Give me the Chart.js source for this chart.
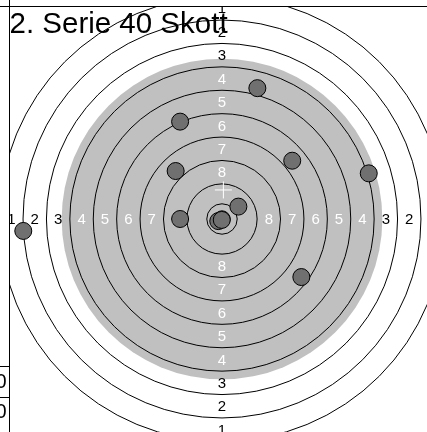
<!DOCTYPE html>
<html>
<head>
<meta charset="utf-8">
<script src="https://cdn.jsdelivr.net/npm/chart.js@4"></script>
<style>
  html, body { margin: 0; padding: 0; background: #fff; overflow: hidden; }
  canvas { display: block; }
</style>
</head>
<body>
<canvas id="target" width="435" height="432"></canvas>
<script>
// Daten: Ringe, Beschriftungen, Schüsse (Einheit = ein Ringabstand)
const titleText = "2. Serie 40 Skott";
const ringRadii = [9.5, 8.5, 7.5, 6.5, 5.5, 4.5, 3.5, 2.5, 1.5, 0.65, 0.35];
const ringLabels = ["1", "2", "3", "4", "5", "6", "7", "8"];
const labelRadii = [9, 8, 7, 6, 5, 4, 3, 2];
const blackRadius = 6.85;
const shotX = [1.51, -1.79, -1.98, 3.0, 6.27, -1.79, 0.7, -0.16, -0.01, 3.39, -8.49];
const shotY = [5.59, 4.16, 2.05, 2.49, 1.95, 0.0, 0.53, -0.09, -0.04, -2.48, -0.51];
const tableValues = ["0", "0"];
const axisMin = -9.1;
const axisMax = 9.1;

const shots = shotX.map((x, i) => ({ x: x, y: shotY[i] }));

// Scheibe: grauer Spiegel, Ringe und Ringzahlen
const targetPlugin = {
	id: "targetFace",
	beforeDatasetsDraw(chart) {
		const { ctx, chartArea, scales } = chart;
		const cx = scales.x.getPixelForValue(0);
		const cy = scales.y.getPixelForValue(0);
		const unit = scales.x.getPixelForValue(1) - cx;

		ctx.save();
		ctx.beginPath();
		ctx.rect(chartArea.left, chartArea.top, chartArea.right - chartArea.left, chartArea.bottom - chartArea.top);
		ctx.clip();

		ctx.fillStyle = "#c0c0c0";
		ctx.beginPath();
		ctx.arc(cx, cy, blackRadius * unit, 0, Math.PI * 2);
		ctx.fill();

		ctx.strokeStyle = "#000";
		ctx.lineWidth = 1;
		ringRadii.forEach((r) => {
			ctx.beginPath();
			ctx.arc(cx, cy, r * unit, 0, Math.PI * 2);
			ctx.stroke();
		});

		ctx.font = '15px "Liberation Sans", Arial, sans-serif';
		ctx.textAlign = "center";
		ctx.textBaseline = "middle";
		ringLabels.forEach((lab, i) => {
			const r = labelRadii[i] * unit;
			ctx.fillStyle = labelRadii[i] < blackRadius ? "#fff" : "#000";
			ctx.fillText(lab, cx - r, cy + 1);
			ctx.fillText(lab, cx + r, cy + 1);
			ctx.fillText(lab, cx, cy - r + 1);
			ctx.fillText(lab, cx, cy + r + 1);
		});

		ctx.fillStyle = "#000";
		ctx.font = '29.5px "Liberation Sans", Arial, sans-serif';
		ctx.textAlign = "left";
		ctx.textBaseline = "alphabetic";
		ctx.fillText(titleText, 9.5, 32.5);
		ctx.restore();
	},
	afterDatasetsDraw(chart) {
		// Trefferlage-Mittelpunkt als weißes Kreuz
		const { ctx, scales } = chart;
		const mx = shotX.reduce((a, b) => a + b, 0) / shotX.length;
		const my = shotY.reduce((a, b) => a + b, 0) / shotY.length;
		const px = scales.x.getPixelForValue(mx);
		const py = scales.y.getPixelForValue(my);
		ctx.save();
		ctx.strokeStyle = "#fff";
		ctx.lineWidth = 1;
		ctx.beginPath();
		ctx.moveTo(px - 8.5, py);
		ctx.lineTo(px + 8.5, py);
		ctx.moveTo(px, py - 8.5);
		ctx.lineTo(px, py + 8.5);
		ctx.stroke();
		ctx.restore();
	},
	afterDraw(chart) {
		// Tabellenlinien links und oben
		const { ctx, width, height } = chart;
		ctx.save();
		ctx.strokeStyle = "#000";
		ctx.lineWidth = 1;
		ctx.beginPath();
		ctx.moveTo(9.5, 0);
		ctx.lineTo(9.5, height);
		ctx.moveTo(0, 6.5);
		ctx.lineTo(width, 6.5);
		ctx.moveTo(0, 366.5);
		ctx.lineTo(9.5, 366.5);
		ctx.moveTo(0, 397.5);
		ctx.lineTo(9.5, 397.5);
		ctx.stroke();
		ctx.fillStyle = "#000";
		ctx.font = '20px "Liberation Sans", Arial, sans-serif';
		ctx.textAlign = "right";
		ctx.textBaseline = "middle";
		ctx.fillText(tableValues[0], 6.5, 382);
		ctx.fillText(tableValues[1], 6.5, 412);
		ctx.restore();
	},
};

new Chart(document.getElementById("target"), {
	type: "scatter",
	data: {
		datasets: [
			{
				data: shots,
				pointRadius: 8.5,
				pointHoverRadius: 8.5,
				backgroundColor: "#707070",
				borderColor: "#000",
				borderWidth: 1,
			},
		],
	},
	options: {
		responsive: false,
		animation: false,
		layout: { autoPadding: false, padding: { left: 9, top: 6, right: 0, bottom: 0 } },
		scales: {
			x: { type: "linear", min: axisMin, max: axisMax, display: false },
			y: { type: "linear", min: axisMin, max: axisMax, display: false },
		},
		plugins: {
			legend: { display: false },
			tooltip: { enabled: false },
		},
	},
	plugins: [targetPlugin],
});
</script>
</body>
</html>
